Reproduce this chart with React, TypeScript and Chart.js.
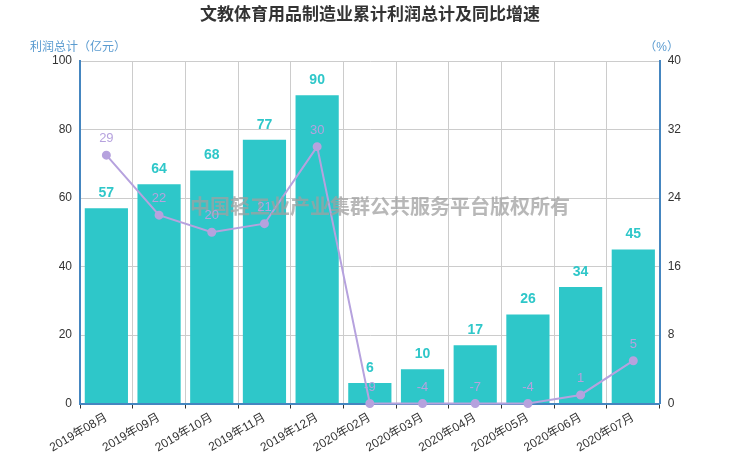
import React, { useEffect, useRef } from "react";
import { Chart, registerables } from "chart.js";

Chart.register(...registerables);

const TITLE = "文教体育用品制造业累计利润总计及同比增速";
const WATERMARK = "中国轻工业产业集群公共服务平台版权所有";
const LEFT_NAME = "利润总计（亿元）";
const RIGHT_NAME = "（%）";
const categories = [
  "2019年08月", "2019年09月", "2019年10月", "2019年11月", "2019年12月",
  "2020年02月", "2020年03月", "2020年04月", "2020年05月", "2020年06月", "2020年07月",
];
const profit = [57, 64, 68, 77, 90, 6, 10, 17, 26, 34, 45];
const growth = [29, 22, 20, 21, 30, -9, -4, -7, -4, 1, 5];
const leftTicks = [0, 20, 40, 60, 80, 100];
const rightTicks = [0, 8, 16, 24, 32, 40];

const BAR = "#2ec7c9";
const LINE = "#b6a2de";
const AXIS = "#4586c0";
const FONT = "'Liberation Sans', 'Noto Sans CJK SC', sans-serif";

const overlay = {
  id: "overlay",
  afterDatasetsDraw(chart: any) {
    const ctx = chart.ctx;
    const area = chart.chartArea;
    ctx.save();
    ctx.fillStyle = "#333";
    ctx.font = `bold 17px ${FONT}`;
    ctx.textAlign = "center";
    ctx.textBaseline = "middle";
    ctx.fillText(TITLE, 370, 15);
    ctx.font = `12px ${FONT}`;
    ctx.fillStyle = "#5a9bd0";
    ctx.textAlign = "left";
    ctx.fillText(LEFT_NAME, 30, 48);
    ctx.textAlign = "center";
    ctx.fillText(RIGHT_NAME, area.right + 2, 48);
    const barMeta = chart.getDatasetMeta(0);
    ctx.font = `bold 14px ${FONT}`;
    ctx.fillStyle = BAR;
    ctx.textBaseline = "bottom";
    barMeta.data.forEach((el: any, i: number) => {
      ctx.fillText(String(profit[i]), el.x, el.y - 8);
    });
    ctx.font = `bold 20px ${FONT}`;
    ctx.fillStyle = "rgba(160,160,160,0.75)";
    ctx.textBaseline = "middle";
    ctx.fillText(WATERMARK, 380, 208);
    const lineMeta = chart.getDatasetMeta(1);
    ctx.font = `13px ${FONT}`;
    ctx.fillStyle = LINE;
    ctx.textBaseline = "bottom";
    lineMeta.data.forEach((el: any, i: number) => {
      ctx.fillText(String(growth[i]), el.x, el.y - 10);
    });
    ctx.restore();
  },
};

export default function App() {
  const ref = useRef<HTMLCanvasElement>(null);
  useEffect(() => {
    document.body.style.margin = "0";
    const chart = new Chart(ref.current!, {
      type: "bar",
      data: {
        labels: categories,
        datasets: [
          {
            type: "bar",
            data: profit,
            backgroundColor: BAR,
            yAxisID: "y",
            barPercentage: 0.82,
            categoryPercentage: 1,
            order: 2,
          },
          {
            type: "line",
            data: growth.map((v) => Math.max(0, v)),
            borderColor: LINE,
            backgroundColor: LINE,
            borderWidth: 2,
            pointRadius: 3.5,
            pointBackgroundColor: LINE,
            pointBorderColor: LINE,
            yAxisID: "y1",
            tension: 0,
            clip: false,
            order: 1,
          } as any,
        ],
      },
      options: {
        animation: false,
        responsive: false,
        layout: { padding: { top: 61, left: 44, right: 51, bottom: 5 } },
        plugins: { legend: { display: false }, tooltip: { enabled: false }, title: { display: false } },
        scales: {
          x: {
            grid: { color: "#cccccc", offset: true, drawTicks: true, tickLength: 5, tickColor: "#333" },
            border: { color: AXIS, width: 2 },
            ticks: { color: "#333", font: { size: 12, family: FONT }, minRotation: 30, maxRotation: 30, padding: 2 },
          },
          y: {
            position: "left",
            min: 0,
            max: 100,
            afterBuildTicks: (s: any) => { s.ticks = leftTicks.map((v) => ({ value: v })); },
            grid: { color: "#cccccc", drawTicks: false },
            border: { color: AXIS, width: 2 },
            ticks: { color: "#333", font: { size: 12, family: FONT }, padding: 8 },
          },
          y1: {
            position: "right",
            min: 0,
            max: 40,
            afterBuildTicks: (s: any) => { s.ticks = rightTicks.map((v) => ({ value: v })); },
            grid: { drawOnChartArea: false, drawTicks: false },
            border: { color: AXIS, width: 2 },
            ticks: { color: "#333", font: { size: 12, family: FONT }, padding: 8 },
          },
        },
      },
      plugins: [overlay],
    });
    return () => chart.destroy();
  }, []);
  return (
    <div style={{ width: 740, height: 462, background: "#fff" }}>
      <canvas ref={ref} width={740} height={462} style={{ width: 740, height: 462 }} />
    </div>
  );
}
